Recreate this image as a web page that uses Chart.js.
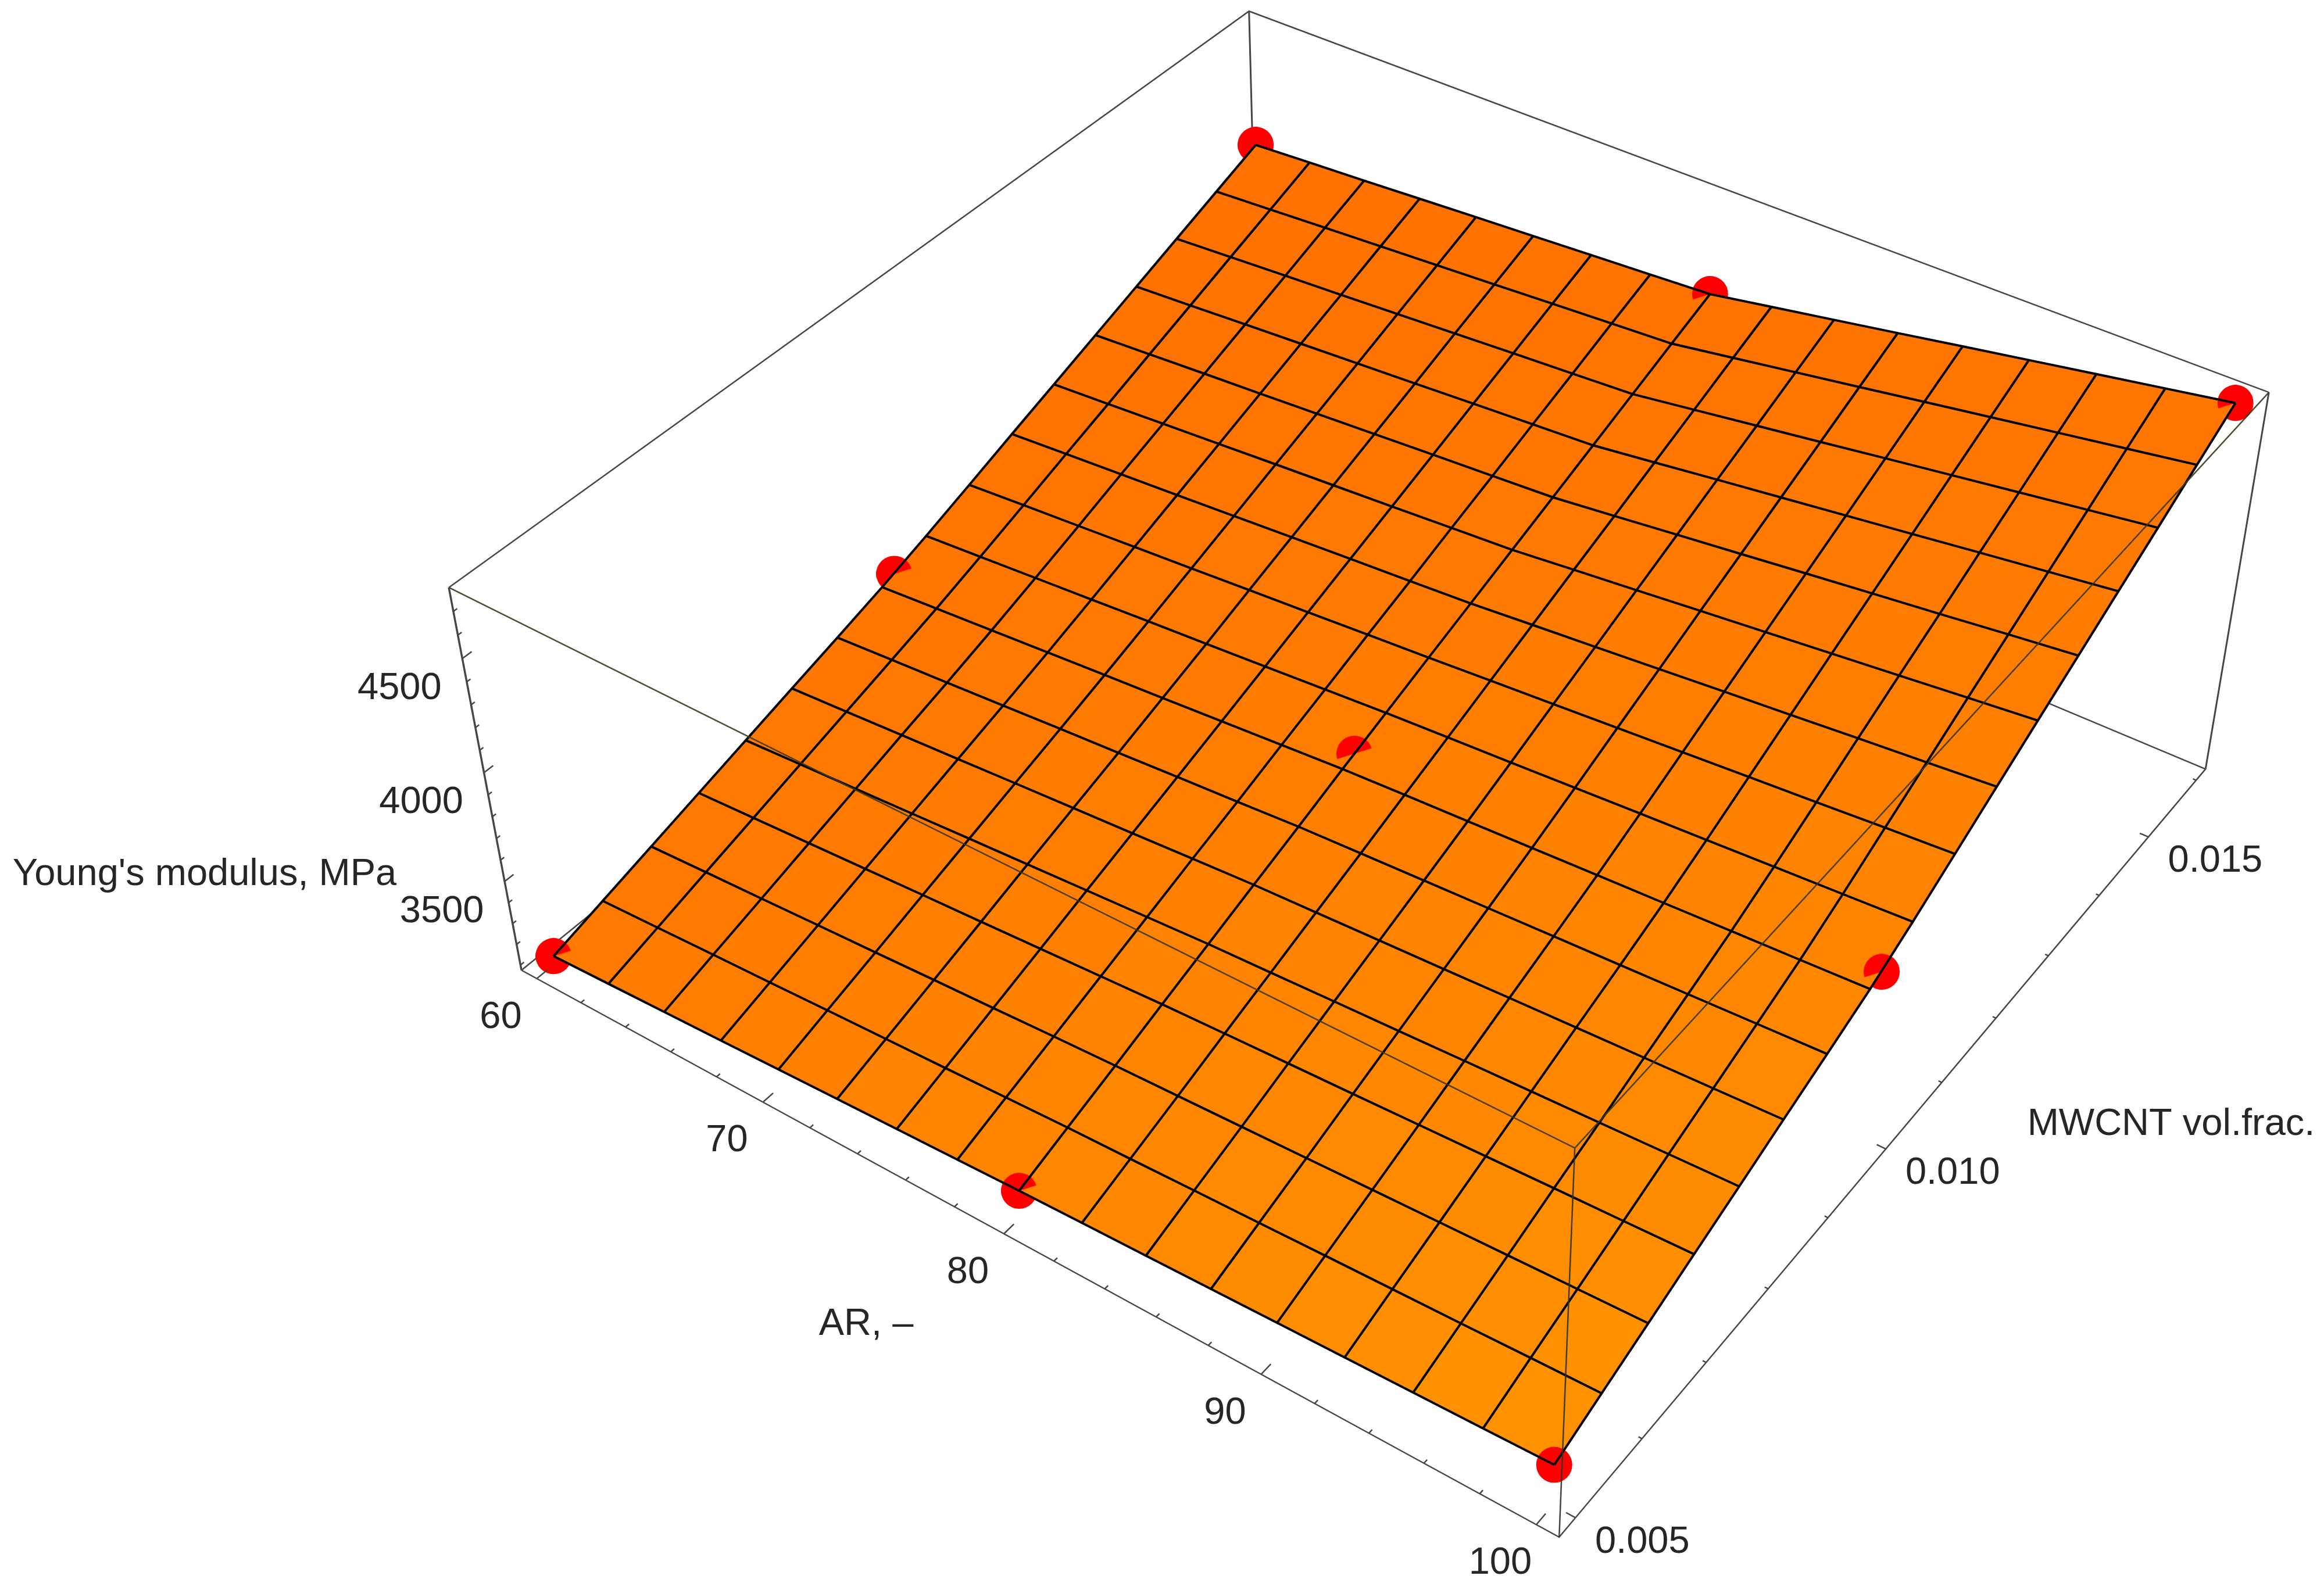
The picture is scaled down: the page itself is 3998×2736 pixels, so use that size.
<!DOCTYPE html>
<html>
<head>
<meta charset="utf-8">
<title>Young's modulus surface</title>
<script src="https://cdn.jsdelivr.net/npm/chart.js@4"></script>
<style>
  html, body { margin: 0; padding: 0; background: #fff; }
  canvas { display: block; }
</style>
</head>
<body>
<canvas id="surface" width="3998" height="2736"></canvas>
<script>
// Measured points
const pointAR = [60, 80, 100];
const pointVf = [0.005, 0.01, 0.016];
const pointE005 = [3112, 3201, 3270];
const pointE010 = [3583, 3746, 3856];
const pointE016 = [4255, 4380, 4765];

// Surface mesh: 17 x 17 nodes, one row per volume fraction step, AR 60 -> 100
const E00 = [3112,3123,3134,3145,3157,3168,3179,3190,3201,3210,3218,3227,3236,3244,3253,3261,3270];
const E01 = [3177,3189,3202,3214,3227,3239,3251,3264,3276,3285,3295,3304,3314,3323,3332,3342,3351];
const E02 = [3242,3256,3269,3283,3296,3310,3323,3337,3350,3360,3370,3380,3391,3401,3411,3421,3431];
const E03 = [3307,3322,3337,3352,3367,3381,3396,3411,3426,3437,3448,3458,3469,3480,3491,3501,3512];
const E04 = [3372,3388,3404,3420,3437,3453,3469,3485,3501,3512,3524,3535,3547,3558,3569,3581,3592];
const E05 = [3437,3454,3472,3489,3507,3524,3541,3559,3576,3588,3600,3612,3625,3637,3649,3661,3673];
const E06 = [3501,3520,3538,3557,3576,3594,3613,3631,3650,3663,3676,3689,3702,3714,3727,3740,3753];
const E07 = [3567,3587,3607,3627,3647,3666,3686,3706,3726,3740,3753,3767,3781,3794,3808,3821,3835];
const E08 = [3640,3660,3680,3700,3720,3739,3759,3779,3799,3816,3832,3849,3866,3882,3899,3915,3932];
const E09 = [3716,3736,3755,3775,3794,3814,3833,3853,3872,3893,3913,3934,3954,3975,3995,4016,4036];
const E10 = [3794,3813,3832,3850,3869,3888,3907,3925,3944,3969,3993,4018,4043,4067,4092,4116,4141];
const E11 = [3870,3888,3907,3925,3944,3962,3980,3999,4017,4046,4074,4103,4131,4160,4188,4217,4245];
const E12 = [3947,3965,3983,4000,4018,4036,4054,4071,4089,4121,4154,4186,4219,4251,4283,4316,4348];
const E13 = [4024,4041,4059,4076,4093,4110,4128,4145,4162,4198,4235,4271,4307,4343,4380,4416,4452];
const E14 = [4101,4118,4135,4151,4168,4185,4202,4218,4235,4275,4315,4355,4396,4436,4476,4516,4556];
const E15 = [4178,4194,4211,4227,4243,4259,4276,4292,4308,4352,4396,4440,4485,4529,4573,4617,4661];
const E16 = [4255,4271,4286,4302,4318,4333,4349,4364,4380,4428,4476,4524,4573,4621,4669,4717,4765];
const meshE = [E00,E01,E02,E03,E04,E05,E06,E07,E08,E09,E10,E11,E12,E13,E14,E15,E16];

const meshAR = [60,62.5,65,67.5,70,72.5,75,77.5,80,82.5,85,87.5,90,92.5,95,97.5,100];
const meshVf = [0.005,0.0056875,0.006375,0.0070625,0.00775,0.0084375,0.009125,0.0098125,0.0105,0.0111875,0.011875,0.0125625,0.01325,0.0139375,0.014625,0.0153125,0.016];

// Axis ticks
const arMajor = [60, 70, 80, 90, 100];
const arMinor = [62,64,66,68,72,74,76,78,82,84,86,88,92,94,96,98];
const vfMajor = [0.005, 0.01, 0.015];
const vfMinor = [0.006,0.007,0.008,0.009,0.011,0.012,0.013,0.014,0.016];
const eMajor = [3500, 4000, 4500];
const eMinor = [3100,3200,3300,3400,3600,3700,3800,3900,4100,4200,4300,4400,4600,4700];
const vfLabels = ["0.005", "0.010", "0.015"];

// Box range
const arRange = [59.3, 100.8];
const vfRange = [0.00476, 0.0162];
const eRange = [3075, 4800];

// Camera: fit one perspective matrix to where the eight box corners land on the page
const boxCorners = [
    [0, 0, 0, 895, 1668], [1, 0, 0, 2681, 2645], [1, 1, 0, 3794, 1323], [0, 1, 0, 2168, 642],
    [0, 0, 1, 774, 1012], [1, 0, 1, 2711, 1976], [1, 1, 1, 3903, 675], [0, 1, 1, 2146, 18]
];
function fitCamera(corners) {
    const n = 11, A = [];
    for (let r = 0; r < n; r++) A.push(new Array(n + 1).fill(0));
    function addRow(row, rhs) {
        for (let r = 0; r < n; r++) {
            for (let c = 0; c < n; c++) A[r][c] += row[r] * row[c];
            A[r][n] += row[r] * rhs;
        }
    }
    corners.forEach(function (q) {
        const X = q[0], Y = q[1], Z = q[2], x = q[3] / 1000, y = q[4] / 1000;
        addRow([X, Y, Z, 1, 0, 0, 0, 0, -x * X, -x * Y, -x * Z], x);
        addRow([0, 0, 0, 0, X, Y, Z, 1, -y * X, -y * Y, -y * Z], y);
    });
    for (let c = 0; c < n; c++) {
        let best = c;
        for (let r = c + 1; r < n; r++) if (Math.abs(A[r][c]) > Math.abs(A[best][c])) best = r;
        const tmp = A[c]; A[c] = A[best]; A[best] = tmp;
        for (let r = 0; r < n; r++) {
            if (r === c) continue;
            const f = A[r][c] / A[c][c];
            for (let k = c; k <= n; k++) A[r][k] -= f * A[c][k];
        }
    }
    return A.map(function (row, i) { return row[n] / row[i]; });
}
const cam = fitCamera(boxCorners);

function project(ar, vf, e) {
    const u = (ar - arRange[0]) / (arRange[1] - arRange[0]);
    const v = (vf - vfRange[0]) / (vfRange[1] - vfRange[0]);
    const w = (e - eRange[0]) / (eRange[1] - eRange[0]);
    const d = cam[8] * u + cam[9] * v + cam[10] * w + 1;
    return {
        x: 1000 * (cam[0] * u + cam[1] * v + cam[2] * w + cam[3]) / d,
        y: 1000 * (cam[4] * u + cam[5] * v + cam[6] * w + cam[7]) / d
    };
}

const datasets = [];
function addLine(points, color, width, order) {
    datasets.push({ data: points, showLine: true, borderColor: color, borderWidth: width,
        pointRadius: 0, fill: false, tension: 0, order: order });
}

const [arLo, arHi] = arRange, [vfLo, vfHi] = vfRange, [eLo, eHi] = eRange;
const boxColor = "rgb(70,70,70)";

// Back of the box, hidden by the surface
addLine([project(arLo, vfHi, eLo), project(arLo, vfHi, eHi)], boxColor, 3, 1000);
addLine([project(arLo, vfLo, eLo), project(arLo, vfHi, eLo), project(arHi, vfHi, eLo)], boxColor, 2.5, 1000);

// Red points: under the surface, then the part that pokes through it
const dotR = 31;
function halfDot() {
    const c = document.createElement("canvas");
    c.width = c.height = dotR * 2;
    const g = c.getContext("2d");
    g.translate(dotR, dotR);
    g.rotate(-0.3);
    g.fillStyle = "#ff0000";
    g.beginPath();
    g.arc(0, 0, dotR, Math.PI, 2 * Math.PI);
    g.closePath();
    g.fill();
    return c;
}
const pointE = [pointE005, pointE010, pointE016];
const dots = [], capDots = [];
pointVf.forEach(function (vf, j) {
    pointAR.forEach(function (ar, i) {
        const p = project(ar, vf, pointE[j][i]);
        if (i === 2 && j === 0) return;
        dots.push(p);
        capDots.push(p);
    });
});
datasets.push({ data: dots, showLine: false, pointRadius: dotR, pointBorderWidth: 0,
    pointBackgroundColor: "#ff0000", order: 900 });
datasets.push({ data: capDots, showLine: false, pointStyle: halfDot(), pointRadius: dotR, order: 700 });
datasets.push({ data: [project(pointAR[2], pointVf[0], pointE005[2])], showLine: false, pointRadius: dotR,
    pointBorderWidth: 0, pointBackgroundColor: "#ff0000", order: 700 });

// Surface cells
function cellColor(i, j) {
    const s = i / 15, t = j / 15;
    const g = (122 * (1 - s) + 146 * s) * (1 - t) + (113 * (1 - s) + 118 * s) * t;
    return "rgb(255," + Math.round(g) + ",0)";
}
for (let j = 0; j < 16; j++) {
    for (let i = 0; i < 16; i++) {
        const col = cellColor(i, j);
        datasets.push({
            data: [project(meshAR[i], meshVf[j], meshE[j][i]),
                project(meshAR[i + 1], meshVf[j], meshE[j][i + 1]),
                project(meshAR[i + 1], meshVf[j + 1], meshE[j + 1][i + 1]),
                project(meshAR[i], meshVf[j + 1], meshE[j + 1][i]),
                project(meshAR[i], meshVf[j], meshE[j][i])],
            showLine: true, borderColor: col, borderWidth: 1, backgroundColor: col,
            pointRadius: 0, fill: "shape", tension: 0, order: 800
        });
    }
}

// Mesh lines
for (let j = 0; j <= 16; j++) {
    addLine(meshAR.map(function (ar, i) { return project(ar, meshVf[j], meshE[j][i]); }), "#000", 4, 600);
}
for (let i = 0; i <= 16; i++) {
    addLine(meshVf.map(function (vf, j) { return project(meshAR[i], vf, meshE[j][i]); }), "#000", 4, 600);
}

// Front of the box, and the roof edges seen through the surface
addLine([project(arLo, vfLo, eHi), project(arLo, vfHi, eHi), project(arHi, vfHi, eHi)], boxColor, 2.5, 500);
addLine([project(arLo, vfLo, eHi), project(arHi, vfLo, eHi), project(arHi, vfHi, eHi)], "rgba(60,55,30,0.9)", 2.5, 500);
addLine([project(arHi, vfLo, eHi), project(arHi, vfLo, eLo)], "rgba(50,50,40,0.9)", 2.5, 500);
addLine([project(arHi, vfHi, eHi), project(arHi, vfHi, eLo)], boxColor, 3, 500);
addLine([project(arLo, vfLo, eHi), project(arLo, vfLo, eLo)], boxColor, 3.5, 500);
addLine([project(arLo, vfLo, eLo), project(arHi, vfLo, eLo), project(arHi, vfHi, eLo)], boxColor, 2.5, 500);

// Tick marks
function addTicks(values, tickFn, len) {
    values.forEach(function (val) {
        const t = tickFn(val, len);
        addLine(t, boxColor, 2.5, 500);
    });
}
function arTick(ar, len) { return [project(ar, vfLo, eLo), project(ar, vfLo + len * (vfHi - vfLo), eLo)]; }
function vfTick(vf, len) { return [project(arHi, vf, eLo), project(arHi - len * (arHi - arLo), vf, eLo)]; }
function eTick(e, len) { return [project(arLo, vfLo, e), project(arLo, vfLo + len * (vfHi - vfLo), e)]; }
addTicks(arMajor, arTick, 0.012);
addTicks(arMinor, arTick, 0.004);
addTicks(vfMajor, vfTick, 0.008);
addTicks(vfMinor, vfTick, 0.003);
addTicks(eMajor, eTick, 0.01);
addTicks(eMinor, eTick, 0.004);

// Tick labels and axis titles
const labelPlugin = {
    id: "boxLabels",
    afterDraw: function (chart) {
        const ctx = chart.ctx, sx = chart.scales.x, sy = chart.scales.y;
        ctx.save();
        ctx.fillStyle = "#262626";
        ctx.font = "65px 'Liberation Sans'";
        ctx.textAlign = "center";
        ctx.textBaseline = "middle";
        function put(text, p, dx, dy) {
            ctx.fillText(text, sx.getPixelForValue(p.x) + dx, sy.getPixelForValue(p.y) + dy);
        }
        arMajor.forEach(function (ar) { put(String(ar), project(ar, vfLo, eLo), -62, 67); });
        vfMajor.forEach(function (vf, k) { put(vfLabels[k], project(arHi, vf, eLo), 115, 42); });
        eMajor.forEach(function (e) { put(String(e), project(arLo, vfLo, e), -108, 52); });
        put("Young's modulus, MPa", { x: 352, y: 1505 }, 0, 0);
        put("AR, \u2013", { x: 1490, y: 2279 }, 0, 0);
        put("MWCNT vol.frac.", { x: 3735, y: 1935 }, 0, 0);
        ctx.restore();
    }
};

new Chart(document.getElementById("surface").getContext("2d"), {
    type: "scatter",
    data: { datasets: datasets },
    options: {
        responsive: false,
        animation: false,
        layout: { padding: 0, autoPadding: false },
        events: [],
        plugins: { legend: { display: false }, tooltip: { enabled: false } },
        scales: {
            x: { type: "linear", min: 0, max: 3998, display: false },
            y: { type: "linear", min: 0, max: 2736, reverse: true, display: false }
        }
    },
    plugins: [labelPlugin]
});
</script>
</body>
</html>
